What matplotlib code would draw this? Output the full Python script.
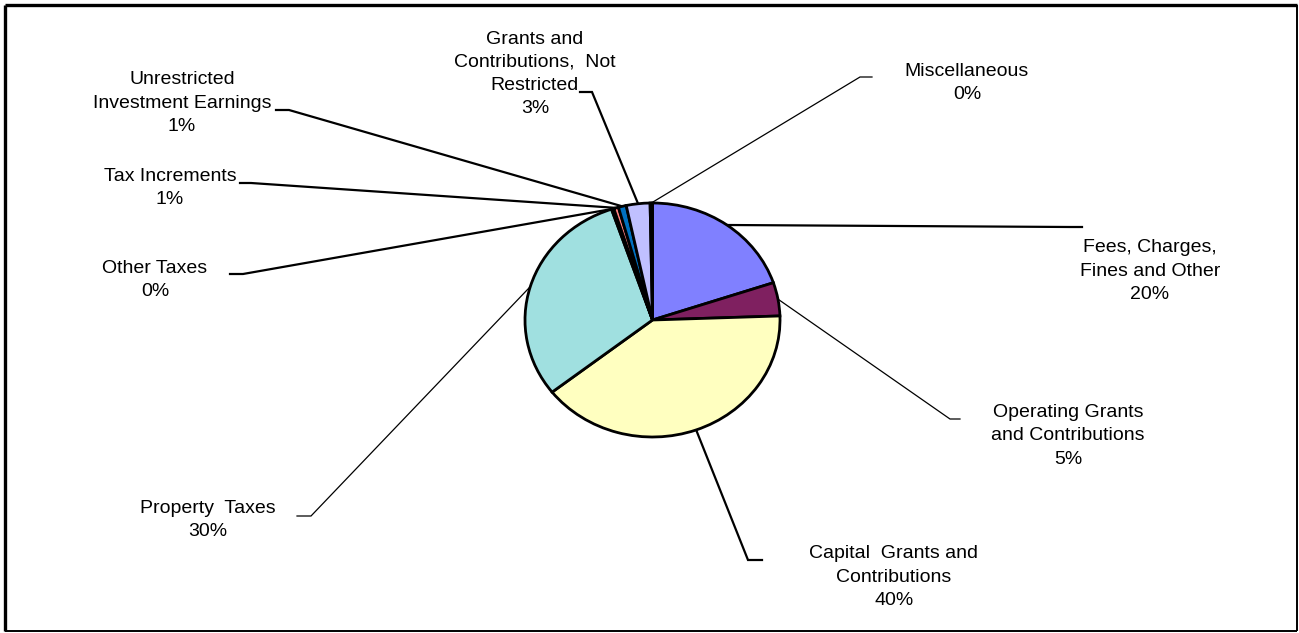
import matplotlib
matplotlib.use("Agg")
import matplotlib.pyplot as plt
import numpy as np

# ---------------- data ----------------
categories = [
    "Fees, Charges,\nFines and Other",
    "Operating Grants\nand Contributions",
    "Capital  Grants and\nContributions",
    "Property  Taxes",
    "Other Taxes",
    "Tax Increments",
    "Unrestricted\nInvestment Earnings",
    "Grants and\nContributions,  Not\nRestricted",
    "Miscellaneous",
]
values = [19.8, 4.6, 39.9, 30.3, 0.3, 0.6, 1.0, 3.0, 0.3]
colors = ["#8080FF", "#7F2060", "#FFFFC0", "#A0E0E0", "#600060",
          "#FF8080", "#0070C0", "#C0C0FF", "#000080"]

# ---------------- layout (pixels, y down) ----------------
W, H = 1299, 633
pie_cx, pie_cy, pie_rx, pie_ry = 652.5, 320, 127.5, 117
# label block centre, elbow point, end point, leader width
label_pos = [
    (1150, 271), (1068, 436), (894, 577), (208, 520), (155, 280),
    (170, 188), (182, 103), (535, 74), (967, 83),
]
elbows = [
    (1070, 227), (950, 419), (748, 560), (311, 516), (243, 274),
    (251, 183), (289, 110), (592, 92), (860, 77),
]
ends = [
    (1082, 227), (960, 419), (762, 560), (297, 516), (230, 274),
    (240, 183), (276, 110), (580, 92), (872, 77),
]
leader_lw = [1.6, 0.9, 1.6, 0.9, 1.6, 1.6, 1.6, 1.6, 0.9]

plt.rcParams["font.family"] = ["Liberation Sans", "DejaVu Sans"]

fig = plt.figure(figsize=(W / 100, H / 100), dpi=100)
fig.patch.set_facecolor("white")

over = fig.add_axes([0, 0, 1, 1], zorder=0)
over.set_xlim(0, W)
over.set_ylim(H, 0)
over.axis("off")

pax = fig.add_axes([(pie_cx - pie_rx) / W, (H - pie_cy - pie_ry) / H,
                    2 * pie_rx / W, 2 * pie_ry / H], zorder=1)
pax.patch.set_alpha(0)
wedges, _ = pax.pie(values, colors=colors, startangle=90, counterclock=False,
                    radius=1.0,
                    wedgeprops=dict(edgecolor="black", linewidth=2.0))
pax.set_aspect("auto")
pax.set_xlim(-1, 1)
pax.set_ylim(-1, 1)
pax.axis("off")

total = sum(values)
cum = np.cumsum([0] + values)
for i, (cat, v) in enumerate(zip(categories, values)):
    mid = 90 - 360 * (cum[i] + cum[i + 1]) / 2 / total
    t = np.deg2rad(mid)
    disp = pax.transData.transform((np.cos(t), np.sin(t)))
    ex, ey = over.transData.inverted().transform(disp)
    xs = [ex, elbows[i][0], ends[i][0]]
    ys = [ey, elbows[i][1], ends[i][1]]
    over.plot(xs, ys, color="black", lw=leader_lw[i], solid_joinstyle="miter")
    pct = f"{round(100 * v / total):.0f}%"
    over.text(label_pos[i][0], label_pos[i][1], f"{cat}\n{pct}",
              ha="center", va="center", fontsize=14, linespacing=1.48,
              color="black")

# chart border
over.plot([5, 1297], [5, 5], color="black", lw=2.4, solid_capstyle="butt")
over.plot([5, 5], [5, 631], color="black", lw=2.4, solid_capstyle="butt")
over.plot([1297, 1297], [5, 631], color="black", lw=1.4, solid_capstyle="butt")
over.plot([5, 1297], [631, 631], color="black", lw=1.4, solid_capstyle="butt")

fig.savefig("out.png", dpi=100, facecolor="white")
